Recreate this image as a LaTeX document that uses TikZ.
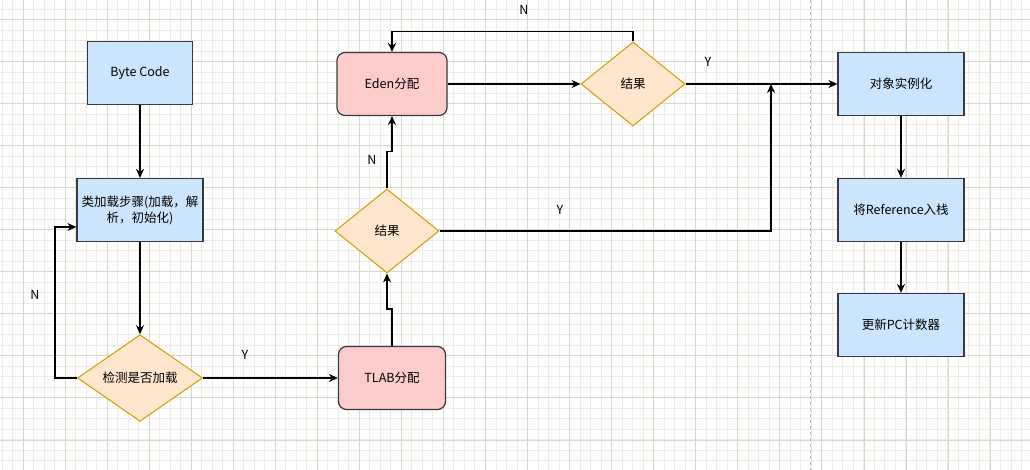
\documentclass[tikz,border=0pt]{standalone}
\usepackage{fontspec}
\setmainfont{Noto Sans CJK SC}
\usetikzlibrary{positioning,shapes.geometric,arrows.meta}
\definecolor{bluefill}{HTML}{CCE5FF}
\definecolor{boxline}{HTML}{36393D}
\definecolor{pinkfill}{HTML}{FFCCCC}
\definecolor{decfill}{HTML}{FFE6CC}
\definecolor{decline}{HTML}{D79B00}
\definecolor{gridminor}{HTML}{ECECE5}
\definecolor{gridmajor}{HTML}{D7D7CD}
\definecolor{divider}{HTML}{B8B8B8}
\tikzset{
  proc/.style={rectangle, draw=boxline, fill=bluefill, line width=1.2pt,
    minimum width=126pt, minimum height=63pt, align=center,
    font=\fontsize{12.5}{16}\selectfont},
  alloc/.style={proc, rounded corners=8pt, fill=pinkfill, minimum width=107pt},
  decide/.style={diamond, draw=decline, fill=decfill, line width=1pt,
    minimum width=104pt, minimum height=84pt, inner sep=0pt, align=center,
    font=\fontsize{12.5}{16}\selectfont},
  flow/.style={-{Stealth[length=9pt,width=8pt]}, line width=1.2pt},
  tag/.style={font=\fontsize{12.5}{15}\selectfont}
}
\begin{document}
\begin{tikzpicture}[x=1pt,y=-1pt,node distance=3cm,on grid]
  \fill[white] (0,0) rectangle (1030,470);
  \useasboundingbox (0,0) rectangle (1030,470);
  % grid
  \foreach \i in {0,...,98}
    \draw[gridminor, line width=0.9pt] ({1.98+10.51*\i},0) -- ++(0,470);
  \foreach \i in {0,...,44}
    \draw[gridminor, line width=0.9pt] (0,{-1.52+10.51*\i}) -- ++(1030,0);
  \foreach \i in {0,...,24}
    \draw[gridmajor, line width=1pt] ({23+42.05*\i},0) -- ++(0,470);
  \foreach \i in {0,...,11}
    \draw[gridmajor, line width=1pt] (0,{19.5+42.05*\i}) -- ++(1030,0);
  \draw[divider, dashed, line width=1pt] (810,0) -- (810,470);

  \node[proc, minimum width=105pt] (byte) at (140,73) {Byte Code};
  \node[proc] (load) [below=137pt of byte] {类加载步骤(加载，解\\析，初始化)};
  \node[decide, minimum width=125pt] (check) [below=168pt of load] {检测是否加载};
  \node[alloc] (tlab) [right=252pt of check] {TLAB分配};
  \node[decide] (res1) [above=147pt of tlab, xshift=-5pt] {结果};
  \node[alloc, minimum width=110pt] (eden) [above=294pt of tlab] {Eden分配};
  \node[decide] (res2) [right=241pt of eden] {结果};
  \node[proc] (obj) [right=268pt of res2] {对象实例化};
  \node[proc] (ref) [below=126pt of obj] {将Reference入栈};
  \node[proc] (pc) [below=115pt of ref] {更新PC计数器};
  \coordinate (join) at (771,84);

  \draw[flow] (byte) -- (load);
  \draw[flow] (load) -- (check);
  \draw[flow] (check.west) -- ++(-22,0) |- ([yshift=-17pt]load.west);
  \draw[flow] (check) -- (tlab);
  \draw[flow] (tlab.north) -- ++(0,-37) -| (res1.south);
  \draw[flow] (res1.north) -- ++(0,-37) -| (eden.south);
  \draw[flow] (eden) -- (res2);
  \draw[flow] (res2.north) -- ++(0,-10) -| (eden.north);
  \draw[flow] (res2) -- (obj);
  \draw[flow] (res1.east) -| (join);
  \draw[flow] (obj) -- (ref);
  \draw[flow] (ref) -- (pc);

  \node[tag] at (35,295) {N};
  \node[tag] at (245,355) {Y};
  \node[tag] at (372,160) {N};
  \node[tag] at (524,10) {N};
  \node[tag] at (708,62) {Y};
  \node[tag] at (560,210) {Y};
\end{tikzpicture}
\end{document}
